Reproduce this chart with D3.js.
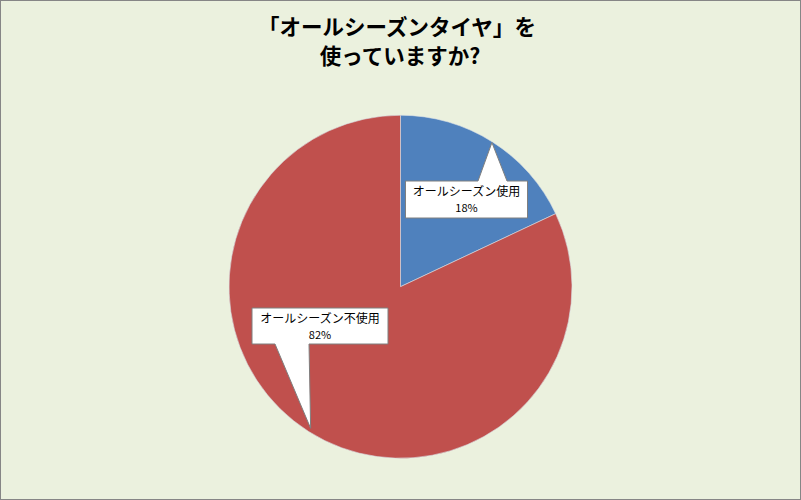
<!DOCTYPE html>
<html>
<head>
<meta charset="utf-8">
<script src="https://cdn.jsdelivr.net/npm/d3@7"></script>
<style>
  body { margin: 0; background: #fff; }
  svg { display: block; }
</style>
</head>
<body>
<div id="chart"></div>
<script>
var titleLines = ["「オールシーズンタイヤ」を", "使っていますか?"];
var categories = ["オールシーズン使用", "オールシーズン不使用"];
var shares = [18, 82];
var colors = ["#4F81BD", "#C0504D"];

var outerWidth = 801,
    outerHeight = 500,
    cx = 400.5,
    cy = 286.7,
    radius = 171.5;

var svg = d3.select("#chart")
    .append("svg")
    .attr("width", outerWidth)
    .attr("height", outerHeight);

svg.append("rect")
    .attr("x", 0.5)
    .attr("y", 0.5)
    .attr("width", outerWidth - 1)
    .attr("height", outerHeight - 1)
    .style("fill", "#EBF1DE")
    .style("stroke", "#868686");

svg.append("text")
    .attr("x", 400)
    .attr("text-anchor", "middle")
    .style("font-family", "'Noto Sans CJK JP', sans-serif")
    .style("font-size", "21.5px")
    .style("font-weight", "bold")
    .style("fill", "#000")
    .selectAll("tspan")
    .data(titleLines)
    .enter().append("tspan")
    .attr("x", function(d, i) { return i === 0 ? 397 : 400; })
    .attr("y", function(d, i) { return 35 + i * 29; })
    .text(function(d) { return d; });

var data = categories.map(function(c, i) {
    return { name: c, value: shares[i], color: colors[i] };
});

var pie = d3.pie()
    .sort(null)
    .value(function(d) { return d.value; });

var arc = d3.arc()
    .innerRadius(0)
    .outerRadius(radius);

var g = svg.append("g")
    .attr("transform", "translate(" + cx + "," + cy + ")");

var arcs = pie(data);

g.selectAll(".slice")
    .data(arcs)
    .enter().append("path")
    .classed("slice", true)
    .attr("d", arc)
    .style("fill", function(d) { return d.data.color; })
    .style("stroke", "#d9dfe6")
    .style("stroke-width", 0.6);

// callout boxes; the pointer tip sits at the slice mid-angle near the rim
var callouts = [
    { box: [405.5, 181, 122, 37], base: [478, 507], side: "top", tipR: 0.995 },
    { box: [252, 308, 136, 36], base: [275, 309], side: "bottom", tipR: 0.978 }
];

arcs.forEach(function(a, i) {
    var c = callouts[i];
    var ang = (a.startAngle + a.endAngle) / 2;
    var tx = cx + Math.sin(ang) * radius * c.tipR,
        ty = cy - Math.cos(ang) * radius * c.tipR;
    var b = c.box, x0 = b[0], y0 = b[1], w = b[2], h = b[3];
    var pts;
    if (c.side === "top") {
        pts = [[x0, y0], [c.base[0], y0], [tx, ty], [c.base[1], y0], [x0 + w, y0],
               [x0 + w, y0 + h], [x0, y0 + h]];
    } else {
        pts = [[x0, y0], [x0 + w, y0], [x0 + w, y0 + h], [c.base[1], y0 + h], [tx, ty],
               [c.base[0], y0 + h], [x0, y0 + h]];
    }
    svg.append("path")
        .attr("d", d3.line()(pts) + "Z")
        .style("fill", "#fff")
        .style("stroke", "#7f7f7f")
        .style("stroke-width", 1);

    var lbl = svg.append("text")
        .attr("text-anchor", "middle")
        .style("font-family", "'Noto Sans CJK JP', sans-serif")
        .style("font-size", "12px")
        .style("fill", "#000");
    lbl.append("tspan")
        .attr("x", x0 + w / 2)
        .attr("y", y0 + 15)
        .text(a.data.name);
    lbl.append("tspan")
        .attr("x", x0 + w / 2)
        .attr("y", y0 + 31)
        .style("font-size", "11px")
        .text(a.data.value + "%");
});
</script>
</body>
</html>
